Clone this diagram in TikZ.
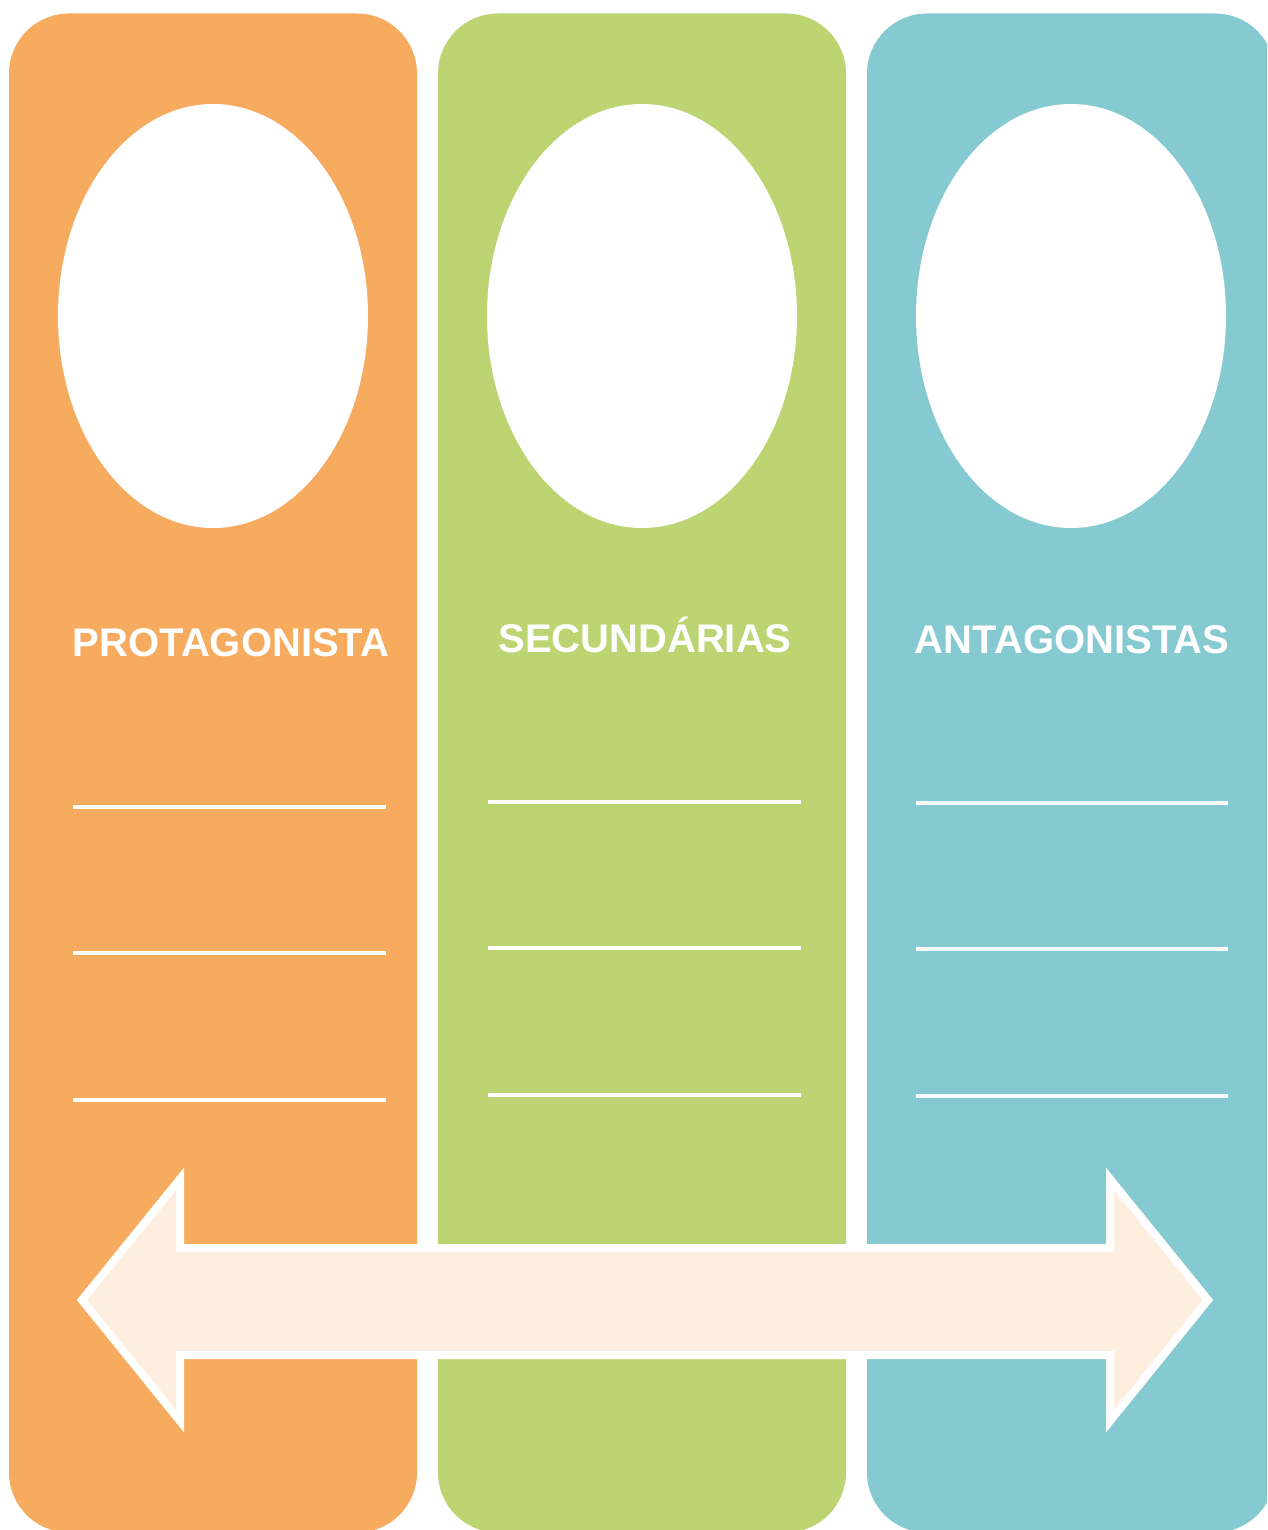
\documentclass[tikz,border=0pt]{standalone}
\usepackage{fontspec}
\setmainfont{Liberation Sans}
\usetikzlibrary{shapes.geometric}
\definecolor{orng}{HTML}{F6AB5E}
\definecolor{grn}{HTML}{BCD472}
\definecolor{teal}{HTML}{86CAD1}
\definecolor{arrowfill}{HTML}{FDEEDF}
\tikzset{
  panel/.style={rectangle, rounded corners=60pt, minimum width=408pt, minimum height=1519pt, inner sep=0pt, draw=none},
  portrait/.style={ellipse, fill=white, minimum width=310pt, minimum height=424pt, inner sep=0pt, draw=none},
  title/.style={text=white, font=\fontsize{40}{40}\selectfont\bfseries, inner sep=0pt, anchor=base},
  rule/.style={draw=white, line width=3.5pt},
  bigarrow/.style={fill=arrowfill, draw=white, line width=8pt, line join=miter}
}
\begin{document}
\begin{tikzpicture}[x=1pt,y=-1pt]
\useasboundingbox (0,0) rectangle (1267,1530);
\clip (0,0) rectangle (1267,1530);
\fill[white] (0,0) rectangle (1267,1530);
% panels
\node[panel, fill=orng] (p1) at (213,773) {};
\node[panel, fill=grn] (p2) at (642,773) {};
\node[panel, fill=teal] (p3) at (1071,773) {};
% portraits
\node[portrait] (e1) at (213,316) {};
\node[portrait] (e2) at (642,316) {};
\node[portrait] (e3) at (1071,316) {};
% titles
\node[title] (t1) at (231,656) {PROTAGONISTA};
\node[title] (t2) at (645,652) {SECUNDÁRIAS};
\node[title] (t3) at (1072,653) {ANTAGONISTAS};
% lines
\foreach \y in {807,953,1100} \draw[rule] (73,\y) -- (386,\y);
\foreach \y in {802,948,1095} \draw[rule] (488,\y) -- (801,\y);
\foreach \y in {803,949,1096} \draw[rule] (916,\y) -- (1228,\y);
% double arrow
\draw[bigarrow] (82,1300) -- (180,1179) -- (180,1248) -- (1110,1248) -- (1110,1179)
  -- (1208,1300) -- (1110,1421) -- (1110,1355) -- (180,1355) -- (180,1421) -- cycle;
\end{tikzpicture}
\end{document}
